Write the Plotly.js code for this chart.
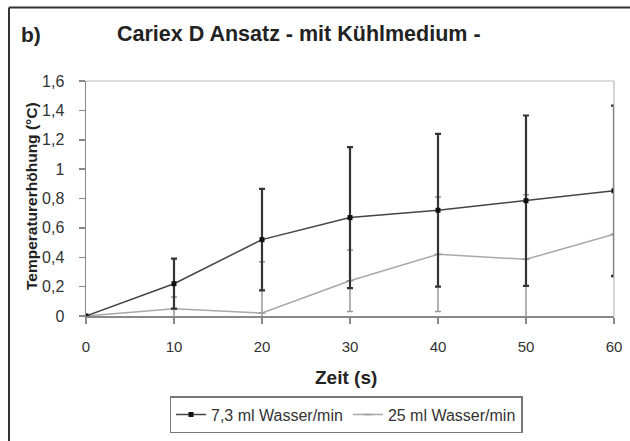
<!DOCTYPE html>
<html>
<head>
<meta charset="utf-8">
<script src="https://cdn.plot.ly/plotly-3.0.1.min.js"></script>
<style>html,body{margin:0;padding:0;background:#fff;}#chart{width:630px;height:441px;}</style>
</head>
<body>
<div id="chart"></div>
<script>
var zeit = [0, 10, 20, 30, 40, 50, 60];
var wasser73 = [0, 0.22, 0.52, 0.67, 0.72, 0.785, 0.853];
var wasser73Err = [0, 0.17, 0.345, 0.48, 0.52, 0.58, 0.58];
var wasser25 = [0, 0.05, 0.02, 0.24, 0.42, 0.386, 0.556];
var wasser25Err = [0, 0.08, 0.35, 0.21, 0.39, 0.44, 0.29];
var seriesNames = ["7,3 ml Wasser/min", "25 ml Wasser/min"];
var yTicks = [0, 0.2, 0.4, 0.6, 0.8, 1, 1.2, 1.4, 1.6];
var xTicks = [0, 10, 20, 30, 40, 50, 60];

var traces = [
  {
    x: zeit, y: wasser25, name: seriesNames[1], type: 'scatter', mode: 'lines+markers',
    line: {color: '#a8a8a8', width: 1.5},
    marker: {color: '#999', size: 5, symbol: 'line-ew', line: {color: '#999', width: 1.5}},
    error_y: {type: 'data', array: wasser25Err, visible: true, color: '#999', thickness: 1.5, width: 3},
    cliponaxis: true
  },
  {
    x: zeit, y: wasser73, name: seriesNames[0], type: 'scatter', mode: 'lines+markers',
    line: {color: '#444', width: 1.5},
    marker: {color: '#111', size: 5, symbol: 'square'},
    error_y: {type: 'data', array: wasser73Err, visible: true, color: '#333', thickness: 2.2, width: 3},
    cliponaxis: true
  }
];

var L = 86, R = 16, T = 81, B = 125, W = 630 - L - R, H = 441 - T - B;
function px(x){ return (x - L) / W; }
function py(y){ return (441 - B - y) / H; }

var FONT = "'Liberation Sans', Arial, sans-serif";

var layout = {
  width: 630, height: 441,
  margin: {l: L, r: R, t: T, b: B, pad: 0, autoexpand: false},
  paper_bgcolor: '#fff', plot_bgcolor: '#fff',
  separators: ',.',
  font: {family: FONT, color: '#333', size: 15},
  showlegend: true,
  legend: {
    orientation: 'h', xref: 'container', yref: 'container',
    x: 346 / 630, xanchor: 'center', y: (441 - 396) / 441, yanchor: 'top',
    bordercolor: '#777', borderwidth: 1.5, traceorder: 'reversed',
    font: {size: 16, color: '#333', family: FONT}, itemwidth: 30, tracegroupgap: 0
  },
  xaxis: {
    range: [0, 60], tickvals: xTicks, ticktext: xTicks.map(String),
    showgrid: false, zeroline: false, showline: true, linecolor: '#888', linewidth: 1.5,
    ticks: 'outside', ticklen: 6, tickcolor: '#888', tickwidth: 1.5,
    ticklabelstandoff: 10,
    tickfont: {size: 15, color: '#333', family: FONT}
  },
  yaxis: {
    range: [0, 1.6], tickvals: yTicks,
    showgrid: false, zeroline: false, showline: true, linecolor: '#888', linewidth: 1.5,
    ticks: 'outside', ticklen: 6, tickcolor: '#888', tickwidth: 1.5,
    ticklabelstandoff: 11,
    tickfont: {size: 16, color: '#333', family: FONT}
  },
  shapes: [
    {type: 'line', xref: 'paper', yref: 'paper', x0: 0, x1: 1, y0: 1, y1: 1, line: {color: '#bbb', width: 1.2}},
    {type: 'line', xref: 'paper', yref: 'paper', x0: 1, x1: 1, y0: 0, y1: 1, line: {color: '#bbb', width: 1.2}},
    {type: 'line', xref: 'paper', yref: 'paper', x0: px(9), x1: px(632), y0: py(7.5), y1: py(7.5), line: {color: '#333', width: 2}},
    {type: 'line', xref: 'paper', yref: 'paper', x0: px(9), x1: px(9), y0: py(7.5), y1: py(445), line: {color: '#333', width: 2}}
  ],
  annotations: [
    {text: '<b>Cariex D Ansatz - mit Kühlmedium -</b>', xref: 'paper', yref: 'paper',
     x: px(299), y: py(34), xanchor: 'center', yanchor: 'middle', showarrow: false,
     font: {size: 21.5, color: '#222', family: FONT}},
    {text: '<b>b)</b>', xref: 'paper', yref: 'paper',
     x: px(19), y: py(34), xanchor: 'left', yanchor: 'middle', showarrow: false,
     font: {size: 21, color: '#222', family: FONT}},
    {text: '<b>Zeit (s)</b>', xref: 'paper', yref: 'paper',
     x: px(346), y: py(377), xanchor: 'center', yanchor: 'middle', showarrow: false,
     font: {size: 19, color: '#222', family: FONT}},
    {text: '<b>Temperaturerhöhung (°C)</b>', xref: 'paper', yref: 'paper', textangle: -90,
     x: px(31), y: py(196), xanchor: 'center', yanchor: 'middle', showarrow: false,
     font: {size: 15.5, color: '#222', family: FONT}}
  ]
};

Plotly.newPlot('chart', traces, layout, {displayModeBar: false, staticPlot: true});
</script>
</body>
</html>
